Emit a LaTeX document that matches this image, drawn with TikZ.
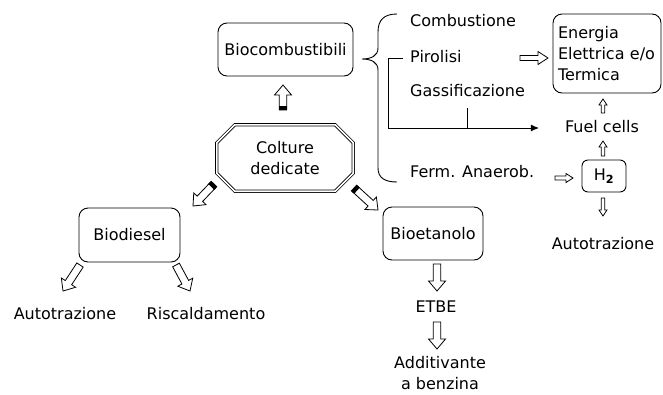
\documentclass[tikz,border=0pt]{standalone}
\usepackage{fontspec}
\setmainfont{DejaVu Sans}
\usetikzlibrary{calc,arrows.meta}

\tikzset{
  box/.style={draw, rounded corners=9pt, line width=0.9pt, inner sep=0pt},
  lbl/.style={inner sep=2pt, text height=12pt, text depth=3.5pt},
}
% hollow block arrow: [opts]{tail}{tip}{half shaft}{half head}{head length}
\newcommand{\blockarrow}[6][]{%
  \coordinate (ba-n) at ($(#3)!#6!(#2)$);
  \draw[fill=white, line width=0.8pt, #1]
    ($(#2)!#4!90:(#3)$) -- ($(ba-n)!#4!90:(#3)$) -- ($(ba-n)!#5!90:(#3)$) -- (#3)
    -- ($(ba-n)!#5!-90:(#3)$) -- ($(ba-n)!#4!-90:(#3)$) -- ($(#2)!#4!-90:(#3)$) -- cycle;}
\newcommand{\bigarrow}[2]{\blockarrow{#1}{#2}{3.8pt}{8.5pt}{10pt}}
\newcommand{\thinarrow}[2]{\blockarrow{#1}{#2}{1.8pt}{4pt}{6pt}}
% black end on the tail of an arrow
\newcommand{\arrowtail}[2]{%
  \coordinate (bt-n) at ($(#1)!4pt!(#2)$);
  \fill ($(#1)!4.2pt!90:(#2)$) -- ($(bt-n)!4.2pt!90:(#2)$) -- ($(bt-n)!4.2pt!-90:(#2)$) -- ($(#1)!4.2pt!-90:(#2)$) -- cycle;}

\begin{document}
\begin{tikzpicture}[x=1pt, y=-1pt, font=\fontsize{16}{21}\selectfont]
\useasboundingbox (0,0) rectangle (663,394);

% main boxes
\node[box, minimum width=135pt, minimum height=53pt] (bio) at (285.5,49.5) {Biocombustibili};
\node[minimum width=136pt, minimum height=66pt, align=center, inner sep=0pt] (colture) at (285,158) {Colture\\dedicate};
\draw[double, double distance=1.6pt, line width=0.8pt]
  ([xshift=18pt]colture.north west) -- ([xshift=-18pt]colture.north east)
  -- ([yshift=-18pt]colture.north east) -- ([yshift=18pt]colture.south east)
  -- ([xshift=-18pt]colture.south east) -- ([xshift=18pt]colture.south west)
  -- ([yshift=18pt]colture.south west) -- ([yshift=-18pt]colture.north west) -- cycle;
\node[box, minimum width=101pt, minimum height=54pt] (diesel) at (129.5,235) {Biodiesel};
\node[box, minimum width=100pt, minimum height=53pt] (etanolo) at (433,233.5) {Bioetanolo};
\node[box, minimum width=108pt, minimum height=79pt, text width=98pt, inner xsep=5pt, align=left] (energia) at (607,53.5) {Energia\\Elettrica e/o\\Termica};
\node[box, rounded corners=6pt, minimum width=44pt, minimum height=32pt] (h2) at (604,176) {H\textsubscript{\textbf{2}}};

% labels
\node[lbl, anchor=west] (comb) at (408,22) {Combustione};
\node[lbl, anchor=west] (pir) at (408,58) {Pirolisi};
\node[lbl, anchor=west] (gass) at (408,92) {Gassificazione};
\node[lbl, anchor=west] (ferm) at (408,173) {Ferm. Anaerob.};
\node[lbl] (fuel) at (602,128) {Fuel cells};
\node[lbl] (autr) at (603,245) {Autotrazione};
\node[lbl] (autl) at (65,315) {Autotrazione};
\node[lbl] (risc) at (206,315) {Riscaldamento};
\node[lbl] (etbe) at (436,308) {ETBE};
\node[align=center, inner sep=2pt] (additiv) at (440,373) {Additivante\\a benzina};

% brace
\draw[line width=0.9pt] (397,14) .. controls (384,14) and (378,20) .. (378,32) -- (378,48)
  .. controls (378,56) and (371,59) .. (362,59) .. controls (371,59) and (378,62) .. (378,70)
  -- (378,168) .. controls (378,178) and (385,182) .. (397,182);

% line to fuel cells
\draw[line width=0.9pt, -{Latex[length=8pt, width=7pt]}] ([xshift=-5pt]pir.west) -- ++(-15,0) |- ([xshift=-24pt]fuel.west);
\draw[line width=0.9pt] ([yshift=-6pt]gass.south) -- (gass.south |- fuel.west);

% arrow ends
\coordinate (bio-t) at (283,110);  \coordinate (bio-h) at (283,85);
\coordinate (die-t) at (214,184);  \coordinate (die-h) at (193,206);
\coordinate (eta-t) at (354,188);  \coordinate (eta-h) at (378,210);
\coordinate (aut-t) at (80,265);   \coordinate (aut-h) at (63,291);
\coordinate (ris-t) at (176,265);  \coordinate (ris-h) at (190,291);
\coordinate (etb-t) at (437,264);  \coordinate (etb-h) at (437,291);
\coordinate (add-t) at (437,322);  \coordinate (add-h) at (437,349);
\coordinate (pir-t) at (520,58);   \coordinate (pir-h) at (548,58);
\coordinate (fer-t) at (555,178);  \coordinate (fer-h) at (573,178);
\coordinate (hfc-t) at (603,156);  \coordinate (hfc-h) at (603,141);
\coordinate (fce-t) at (603,113);  \coordinate (fce-h) at (603,99);
\coordinate (hau-t) at (603,198);  \coordinate (hau-h) at (603,216);

% block arrows
\bigarrow{bio-t}{bio-h}  \arrowtail{bio-t}{bio-h}
\bigarrow{die-t}{die-h}  \arrowtail{die-t}{die-h}
\bigarrow{eta-t}{eta-h}  \arrowtail{eta-t}{eta-h}
\bigarrow{aut-t}{aut-h}
\bigarrow{ris-t}{ris-h}
\bigarrow{etb-t}{etb-h}
\bigarrow{add-t}{add-h}
\blockarrow{pir-t}{pir-h}{2.5pt}{6.5pt}{10pt}
\blockarrow{fer-t}{fer-h}{2pt}{4.5pt}{7pt}
\thinarrow{hfc-t}{hfc-h}
\thinarrow{fce-t}{fce-h}
\thinarrow{hau-t}{hau-h}
\end{tikzpicture}
\end{document}
